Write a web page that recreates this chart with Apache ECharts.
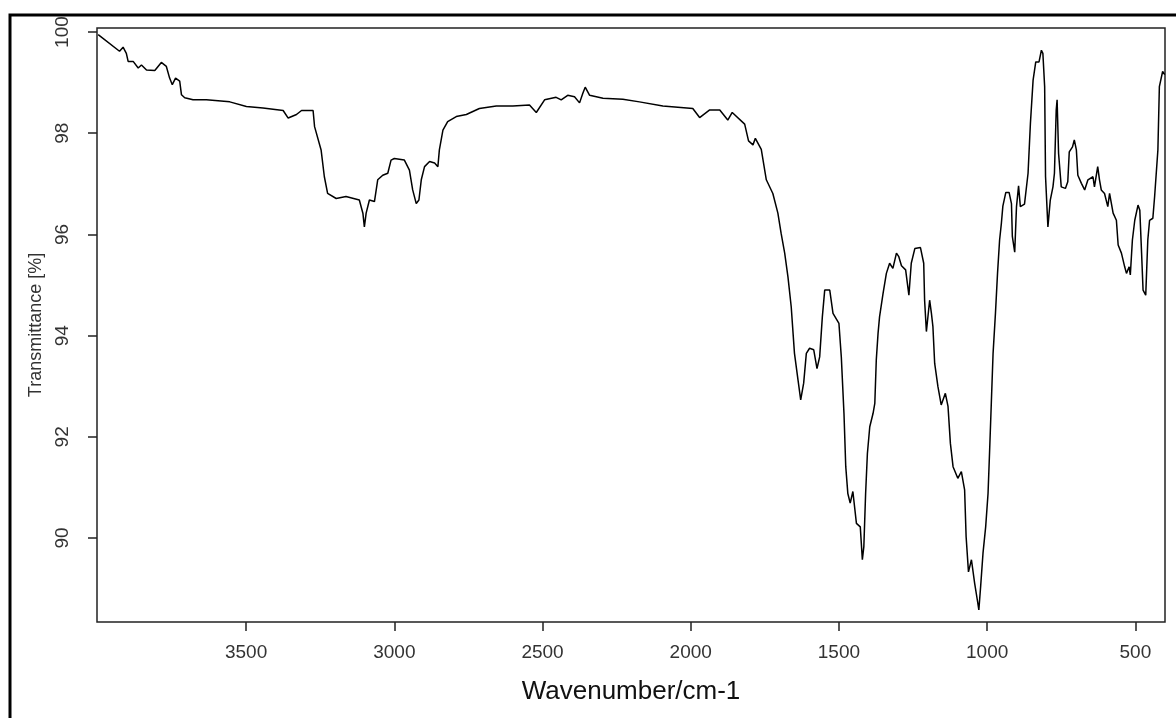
<!DOCTYPE html>
<html>
<head>
<meta charset="utf-8">
<script src="https://cdn.jsdelivr.net/npm/echarts@6/dist/echarts.min.js"></script>
<style>
  html, body { margin: 0; padding: 0; background: #fff; }
  #chart { width: 1176px; height: 718px; }
</style>
</head>
<body>
<div id="chart"></div>
<script>
// FTIR spectrum: wavenumber (cm-1) and transmittance (%)
const wavenumber = [
  3999, 3927, 3915, 3904, 3898, 3881, 3864, 3853, 3836, 3808, 3797, 3786, 3769, 3758, 3749, 3738,
  3724, 3718, 3707, 3679, 3634, 3555, 3499, 3443, 3375, 3358, 3330, 3313, 3274, 3269, 3247, 3236,
  3225, 3196, 3163, 3118, 3106, 3101, 3095, 3084, 3067, 3056, 3039, 3022, 3011, 3000, 2966, 2949,
  2938, 2926, 2917, 2909, 2898, 2881, 2864, 2853, 2848, 2836, 2820, 2791, 2757, 2713, 2656, 2600,
  2544, 2521, 2493, 2454, 2437, 2415, 2392, 2375, 2364, 2356, 2341, 2296, 2229, 2173, 2094, 1993,
  1970, 1936, 1902, 1875, 1860, 1818, 1805, 1790, 1782, 1762, 1745, 1723, 1706, 1695, 1683, 1672,
  1661, 1650, 1638, 1629, 1619, 1610, 1599, 1585, 1574, 1565, 1556, 1548, 1531, 1520, 1500, 1492,
  1483, 1477, 1470, 1462, 1453, 1441, 1428, 1421, 1416, 1410, 1404, 1396, 1385, 1379, 1374, 1368,
  1363, 1351, 1340, 1329, 1318, 1306, 1298, 1289, 1275, 1264, 1256, 1244, 1225, 1214, 1211, 1205,
  1194, 1188, 1183, 1177, 1166, 1155, 1141, 1132, 1124, 1115, 1099, 1087, 1076, 1071, 1063, 1053,
  1042, 1033, 1028, 1022, 1014, 1005, 997, 992, 986, 980, 972, 965, 958, 952, 947, 937,
  926, 918, 915, 907, 901, 894, 888, 874, 862, 854, 845, 836, 825, 817, 812, 806,
  803, 795, 787, 778, 773, 767, 764, 759, 750, 736, 728, 723, 712, 706, 699, 694,
  682, 671, 660, 643, 638, 627, 621, 615, 604, 593, 587, 575, 564, 558, 547, 536,
  530, 521, 517, 510, 502, 491, 485, 479, 474, 465, 458, 452, 441, 435, 424, 419,
  408, 401
];
const transmittance = [
  99.95, 99.62, 99.70, 99.58, 99.42, 99.42, 99.29, 99.35, 99.25, 99.24, 99.32, 99.40, 99.32, 99.09, 98.96, 99.09,
  99.03, 98.76, 98.70, 98.66, 98.66, 98.62, 98.53, 98.50, 98.45, 98.30, 98.37, 98.45, 98.45, 98.13, 97.67, 97.14,
  96.81, 96.71, 96.75, 96.68, 96.42, 96.15, 96.42, 96.68, 96.65, 97.08, 97.17, 97.21, 97.47, 97.50, 97.47, 97.27,
  96.88, 96.61, 96.68, 97.08, 97.34, 97.44, 97.41, 97.34, 97.67, 98.06, 98.23, 98.33, 98.37, 98.49, 98.54, 98.54,
  98.56, 98.41, 98.66, 98.71, 98.66, 98.75, 98.72, 98.60, 98.79, 98.91, 98.75, 98.69, 98.67, 98.62, 98.54, 98.49,
  98.31, 98.46, 98.46, 98.26, 98.41, 98.18, 97.85, 97.77, 97.90, 97.68, 97.08, 96.81, 96.42, 96.02, 95.63, 95.16,
  94.57, 93.65, 93.12, 92.73, 93.06, 93.65, 93.75, 93.72, 93.35, 93.58, 94.37, 94.90, 94.90, 94.44, 94.24, 93.58,
  92.46, 91.41, 90.88, 90.69, 90.92, 90.29, 90.22, 89.57, 89.83, 90.88, 91.67, 92.20, 92.46, 92.66, 93.52, 94.05,
  94.37, 94.84, 95.23, 95.43, 95.33, 95.63, 95.56, 95.38, 95.30, 94.80, 95.43, 95.72, 95.74, 95.43, 94.70, 94.08,
  94.70, 94.44, 94.18, 93.45, 92.99, 92.63, 92.86, 92.60, 91.87, 91.41, 91.18, 91.31, 90.95, 90.03, 89.33, 89.57,
  89.10, 88.77, 88.58, 89.04, 89.70, 90.22, 90.88, 91.67, 92.66, 93.65, 94.44, 95.23, 95.89, 96.22, 96.56, 96.83,
  96.83, 96.61, 95.96, 95.65, 96.55, 96.96, 96.55, 96.60, 97.21, 98.20, 99.05, 99.41, 99.41, 99.64, 99.58, 98.92,
  97.14, 96.15, 96.68, 96.94, 97.21, 98.46, 98.66, 97.60, 96.94, 96.91, 97.04, 97.63, 97.73, 97.87, 97.67, 97.17,
  97.01, 96.88, 97.08, 97.14, 96.94, 97.34, 97.08, 96.88, 96.81, 96.55, 96.81, 96.42, 96.28, 95.79, 95.63, 95.36,
  95.23, 95.36, 95.20, 95.89, 96.28, 96.58, 96.48, 95.63, 94.90, 94.80, 95.89, 96.28, 96.32, 96.75, 97.67, 98.92,
  99.22, 99.16
];
const xTicks = [500, 1000, 1500, 2000, 2500, 3000, 3500];
const yTicks = [90, 92, 94, 96, 98, 100];

const points = wavenumber.map((w, i) => [w, transmittance[i]]);

const font = '"Liberation Sans", Arial, sans-serif';
const ink = '#222';
const plain = (v) => String(v);

const chart = echarts.init(document.getElementById('chart'), null, { renderer: 'canvas' });
chart.setOption({
  animation: false,
  backgroundColor: '#fff',
  grid: {
    left: 97, top: 28, width: 1068, height: 594,
    show: true, borderColor: ink, borderWidth: 1.5, backgroundColor: 'transparent'
  },
  xAxis: {
    type: 'value',
    inverse: true,
    min: 400, max: 4003,
    name: 'Wavenumber/cm-1',
    nameLocation: 'middle',
    nameGap: 57,
    nameTextStyle: { fontFamily: font, fontSize: 26, color: '#111' },
    axisLine: { show: false },
    splitLine: { show: false },
    axisTick: { show: true, inside: false, length: 9, customValues: xTicks, lineStyle: { color: ink, width: 1.5 } },
    axisLabel: { customValues: xTicks, formatter: plain, margin: 21, fontFamily: font, fontSize: 19, color: '#333' }
  },
  yAxis: {
    type: 'value',
    min: 88.34, max: 100.08,
    name: 'Transmittance [%]',
    nameLocation: 'middle',
    nameGap: 51,
    nameTextStyle: { fontFamily: font, fontSize: 18, color: '#333' },
    axisLine: { show: false },
    splitLine: { show: false },
    axisTick: { show: true, inside: false, length: 9, customValues: yTicks, lineStyle: { color: ink, width: 1.5 } },
    axisLabel: { customValues: yTicks, formatter: plain, rotate: 90, margin: 25, fontFamily: font, fontSize: 19, color: '#333' }
  },
  graphic: [{
    type: 'rect',
    shape: { x: 10, y: 15, width: 1200, height: 800 },
    style: { fill: 'none', stroke: '#000', lineWidth: 3 },
    silent: true
  }],
  series: [{
    type: 'line',
    data: points,
    showSymbol: false,
    lineStyle: { color: '#000', width: 1.5 },
    clip: true
  }]
});
</script>
</body>
</html>
